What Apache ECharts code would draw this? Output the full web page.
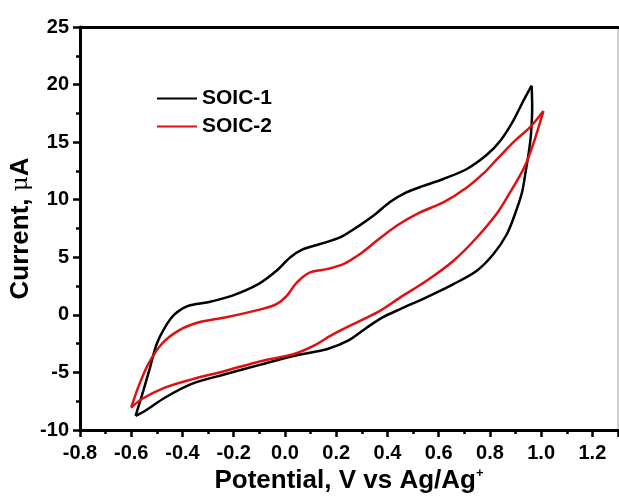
<!DOCTYPE html>
<html>
<head>
<meta charset="utf-8">
<script src="https://cdn.jsdelivr.net/npm/echarts@6/dist/echarts.min.js"></script>
<style>html,body{margin:0;padding:0;background:#fff;}#c{width:619px;height:497px;}</style>
</head>
<body>
<div id="c"></div>
<script>
// Tick values
const xTicks = [-0.8, -0.6, -0.4, -0.2, 0.0, 0.2, 0.4, 0.6, 0.8, 1.0, 1.2];
const yTicks = [-10, -5, 0, 5, 10, 15, 20, 25];
const seriesNames = ['SOIC-1', 'SOIC-2'];

// SOIC-1 (black) anodic (upper) branch: [potential V, current uA]
const soic1Upper = [
  [-0.583,-8.78],[-0.553,-6.6],[-0.527,-4.6],[-0.501,-2.55],[-0.469,-1.1],[-0.43,0.06],
  [-0.378,0.78],[-0.30,1.1],[-0.208,1.65],[-0.104,2.67],[-0.033,3.83],[0.02,4.98],
  [0.071,5.7],[0.137,6.15],[0.215,6.72],[0.28,7.6],[0.35,8.7],[0.41,9.8],[0.47,10.6],
  [0.54,11.2],[0.618,11.8],[0.71,12.67],[0.788,13.9],[0.84,15.1],[0.892,16.9],
  [0.931,18.6],[0.963,19.9]
];
// SOIC-1 (black) cathodic (lower) branch
const soic1Lower = [
  [-0.583,-8.78],[-0.547,-8.35],[-0.469,-7.2],[-0.364,-6.0],[-0.234,-5.16],[-0.091,-4.3],
  [0.033,-3.57],[0.163,-2.99],[0.25,-2.2],[0.32,-1.1],[0.383,-0.2],[0.45,0.5],[0.55,1.5],
  [0.658,2.67],[0.749,3.83],[0.814,5.28],[0.866,7.0],[0.898,8.76],[0.925,10.6],
  [0.94,12.5],[0.951,14.0],[0.96,15.6],[0.965,18.0],[0.963,19.9]
];
// SOIC-2 (red) anodic (upper) branch
const soic2Upper = [
  [-0.60,-8.06],[-0.573,-6.3],[-0.534,-4.3],[-0.482,-2.55],[-0.417,-1.39],[-0.339,-0.67],
  [-0.234,-0.23],[-0.091,0.5],[-0.033,0.93],[0.007,1.65],[0.046,2.8],[0.098,3.68],
  [0.163,3.97],[0.228,4.4],[0.293,5.28],[0.358,6.43],[0.436,7.74],[0.527,8.9],
  [0.618,9.77],[0.71,11.07],[0.78,12.4],[0.827,13.5],[0.892,15.0],[0.957,16.3],[1.009,17.7]
];
// SOIC-2 (red) cathodic (lower) branch
const soic2Lower = [
  [-0.60,-8.06],[-0.56,-7.33],[-0.469,-6.32],[-0.364,-5.6],[-0.234,-4.87],[-0.091,-4.0],
  [0.033,-3.42],[0.111,-2.7],[0.189,-1.68],[0.293,-0.52],[0.371,0.35],[0.449,1.5],
  [0.553,2.96],[0.658,4.7],[0.749,6.72],[0.827,8.8],[0.875,10.5],[0.915,12.0],
  [0.944,13.3],[0.97,14.9],[0.99,16.3],[1.009,17.7]
];

const colors = ['#000000', '#e01010'];
const FONT = '"Liberation Sans", Arial, sans-serif';

const chart = echarts.init(document.getElementById('c'), null, {renderer: 'canvas'});

function line(name, data, color) {
  return {
    name: name, type: 'line', data: data, smooth: 0.3,
    showSymbol: false, symbol: 'none', xAxisIndex: 0, yAxisIndex: 0,
    lineStyle: {color: color, width: 2.5}, itemStyle: {color: color},
    emphasis: {disabled: true}, animation: false, clip: true
  };
}

chart.setOption({
  animation: false,
  backgroundColor: '#ffffff',
  grid: {left: 80, right: 1, top: 27, bottom: 67, show: true, borderColor: '#a0a0a0', borderWidth: 1,
    containLabel: false, outerBoundsMode: 'none'},
  legend: {
    data: seriesNames, orient: 'vertical', left: 152, top: 83,
    itemWidth: 40, itemHeight: 14, itemGap: 7,
    textStyle: {fontFamily: FONT, fontWeight: 'bold', fontSize: 21, color: '#000', lineHeight: 21},
    icon: 'path://M0,6 L40,6 L40,8 L0,8 Z'
  },
  xAxis: [{
    type: 'value', min: xTicks[0], max: 1.3, interval: 0.2,
    position: 'bottom',
    name: 'Potential, V vs Ag/Ag{sup|+}', nameLocation: 'middle', nameGap: 37, nameMoveOverlap: false,
    nameTextStyle: {fontFamily: FONT, fontWeight: 'bold', fontSize: 26, color: '#000',
      rich: {sup: {fontFamily: FONT, fontWeight: 'bold', fontSize: 13, color: '#000', verticalAlign: 'top', padding: [0,0,15,0]}}},
    axisLine: {show: true, onZero: false, lineStyle: {color: '#000', width: 3}},
    axisTick: {show: true, length: 7, lineStyle: {color: '#000', width: 2.5}},
    minorTick: {show: true, splitNumber: 2, length: 4, lineStyle: {color: '#000', width: 2.5}},
    splitLine: {show: false},
    axisLabel: {fontFamily: FONT, fontWeight: 'bold', fontSize: 20, color: '#000', margin: 13,
      showMaxLabel: false, formatter: v => v.toFixed(1)}
  }, {
    type: 'value', min: xTicks[0], max: 1.3, position: 'top',
    axisLine: {show: true, onZero: false, lineStyle: {color: '#000', width: 3}},
    axisTick: {show: false}, axisLabel: {show: false}, splitLine: {show: false}
  }],
  yAxis: [{
    type: 'value', min: yTicks[0], max: yTicks[yTicks.length - 1], interval: 5,
    name: 'Current, {mu|μ}A', nameLocation: 'middle', nameGap: 46, nameRotate: 90, nameMoveOverlap: false,
    nameTextStyle: {fontFamily: FONT, fontWeight: 'bold', fontSize: 26, color: '#000',
      rich: {mu: {fontFamily: '"DejaVu Serif", serif', fontWeight: 'normal', fontSize: 23, color: '#000'}}},
    axisLine: {show: true, onZero: false, lineStyle: {color: '#000', width: 3}},
    axisTick: {show: true, length: 7, lineStyle: {color: '#000', width: 2.5}},
    minorTick: {show: true, splitNumber: 2, length: 4, lineStyle: {color: '#000', width: 2.5}},
    splitLine: {show: false},
    axisLabel: {fontFamily: FONT, fontWeight: 'bold', fontSize: 20, color: '#000', margin: 11}
  }],
  series: [
    line(seriesNames[0], soic1Upper, colors[0]),
    line(seriesNames[0], soic1Lower, colors[0]),
    line(seriesNames[1], soic2Upper, colors[1]),
    line(seriesNames[1], soic2Lower, colors[1])
  ]
});
</script>
</body>
</html>
